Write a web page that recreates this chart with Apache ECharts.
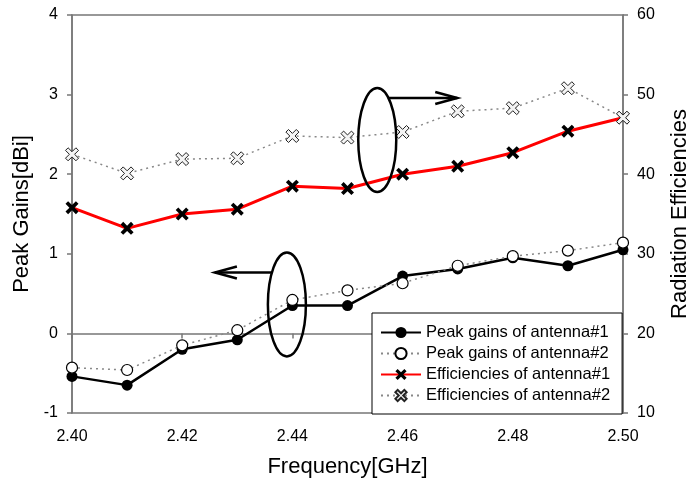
<!DOCTYPE html>
<html>
<head>
<meta charset="utf-8">
<script src="https://cdn.jsdelivr.net/npm/echarts@6/dist/echarts.min.js"></script>
<style>
  html, body { margin: 0; padding: 0; background: #fff; }
  #main { width: 692px; height: 482px; }
</style>
</head>
<body>
<div id="main"></div>
<script>
// 频率 (GHz)
const freq = [2.40, 2.41, 2.42, 2.43, 2.44, 2.45, 2.46, 2.47, 2.48, 2.49, 2.50]
// 峰值增益 (dBi)
const gain1 = [-0.54, -0.65, -0.20, -0.08, 0.35, 0.35, 0.72, 0.81, 0.95, 0.85, 1.05]
const gain2 = [-0.43, -0.46, -0.15, 0.04, 0.42, 0.54, 0.63, 0.85, 0.97, 1.04, 1.14]
// 辐射效率
const eff1 = [35.8, 33.2, 35.0, 35.6, 38.5, 38.2, 40.0, 41.0, 42.7, 45.4, 47.1]
const eff2 = [42.5, 40.1, 41.9, 42.0, 44.8, 44.6, 45.3, 47.9, 48.3, 50.8, 47.1]
const seriesNames = ['Peak gains of antenna#1', 'Peak gains of antenna#2', 'Efficiencies of antenna#1', 'Efficiencies of antenna#2']

const font = 'Liberation Sans, Arial, sans-serif'
const axisColor = '#777'
const xPath = 'path://M0,2 L2,0 L5,3 L8,0 L10,2 L7,5 L10,8 L8,10 L5,7 L2,10 L0,8 L3,5 Z'

function pairs(vals) {
    return freq.map((f, i) => [f, vals[i]])
}

const axisCommon = {
    axisLine: { show: true, lineStyle: { color: axisColor, width: 1.5 } },
    axisTick: { show: true, inside: false, length: 5, lineStyle: { color: axisColor, width: 1.5 } },
    splitLine: { show: false },
    axisLabel: { color: '#000', fontSize: 16, fontFamily: font, margin: 14 },
    nameTextStyle: { color: '#000', fontSize: 22, fontFamily: font },
    nameLocation: 'middle'
}

var chart = echarts.init(document.getElementById('main'))
let option = {
    animation: false,
    backgroundColor: '#fff',
    grid: {
        left: 72, right: 69, top: 15, bottom: 69,
        outerBoundsMode: 'none',
        containLabel: false,
        show: true, borderColor: axisColor, borderWidth: 1.5
    },
    legend: {
        orient: 'vertical',
        left: 372,
        top: 313,
        data: seriesNames,
        itemWidth: 40,
        itemHeight: 14,
        itemGap: 4,
        padding: [11, 12, 10, 8],
        borderColor: '#000',
        borderWidth: 1,
        backgroundColor: '#fff',
        textStyle: { color: '#000', fontSize: 16.5, fontFamily: font }
    },
    xAxis: Object.assign({}, axisCommon, {
        type: 'value',
        min: 2.40, max: 2.50, interval: 0.02,
        name: 'Frequency[GHz]',
        nameGap: 43,
        axisLabel: Object.assign({}, axisCommon.axisLabel, {
            margin: 16,
            formatter: v => v.toFixed(2)
        })
    }),
    yAxis: [
        Object.assign({}, axisCommon, {
            type: 'value',
            min: -1, max: 4, interval: 1,
            name: 'Peak Gains[dBi]',
            nameGap: 39
        }),
        Object.assign({}, axisCommon, {
            type: 'value',
            position: 'right',
            min: 10, max: 60, interval: 10,
            name: 'Radiation Efficiencies',
            nameGap: 46
        })
    ],
    series: [
        {
            name: seriesNames[0], type: 'line', yAxisIndex: 0,
            data: pairs(gain1),
            symbol: 'circle', symbolSize: 11,
            itemStyle: { color: '#000' },
            lineStyle: { color: '#000', width: 2.5 }
        },
        {
            name: seriesNames[1], type: 'line', yAxisIndex: 0,
            data: pairs(gain2),
            symbol: 'circle', symbolSize: 11,
            itemStyle: { color: '#fff', borderColor: '#000', borderWidth: 1.2 },
            lineStyle: { color: '#888', width: 1.5, type: [2, 4] }
        },
        {
            name: seriesNames[2], type: 'line', yAxisIndex: 1,
            data: pairs(eff1),
            symbol: xPath, symbolSize: 13,
            itemStyle: { color: '#000' },
            lineStyle: { color: '#ff0000', width: 3 }
        },
        {
            name: seriesNames[3], type: 'line', yAxisIndex: 1,
            data: pairs(eff2),
            symbol: xPath, symbolSize: 13,
            itemStyle: { color: '#f4f4f4', borderColor: '#222', borderWidth: 1 },
            lineStyle: { color: '#888', width: 1.5, type: [2, 4] }
        }
    ]
}
chart.setOption(option)

// 标注：椭圆和箭头
function annot(center, dx1, dx2, armDx, dy) {
    const c = chart.convertToPixel({ xAxisIndex: 0, yAxisIndex: 0 }, center)
    const style = { stroke: '#000', lineWidth: 2.5, fill: null }
    return [
        { type: 'ellipse', shape: { cx: c[0], cy: c[1], rx: 19, ry: 52 }, style: style, z: 100 },
        { type: 'line', shape: { x1: c[0] + dx1, y1: c[1] + dy, x2: c[0] + dx2, y2: c[1] + dy }, style: style, z: 100 },
        {
            type: 'polyline',
            shape: { points: [[c[0] + armDx, c[1] + dy - 6], [c[0] + dx2, c[1] + dy], [c[0] + armDx, c[1] + dy + 6]] },
            style: style, z: 100
        }
    ]
}
chart.setOption({
    graphic: annot([2.4554, 2.43], 11, 80, 58, -42).concat(annot([2.4390, 0.364], -15, -72, -50, -32))
})
</script>
</body>
</html>
